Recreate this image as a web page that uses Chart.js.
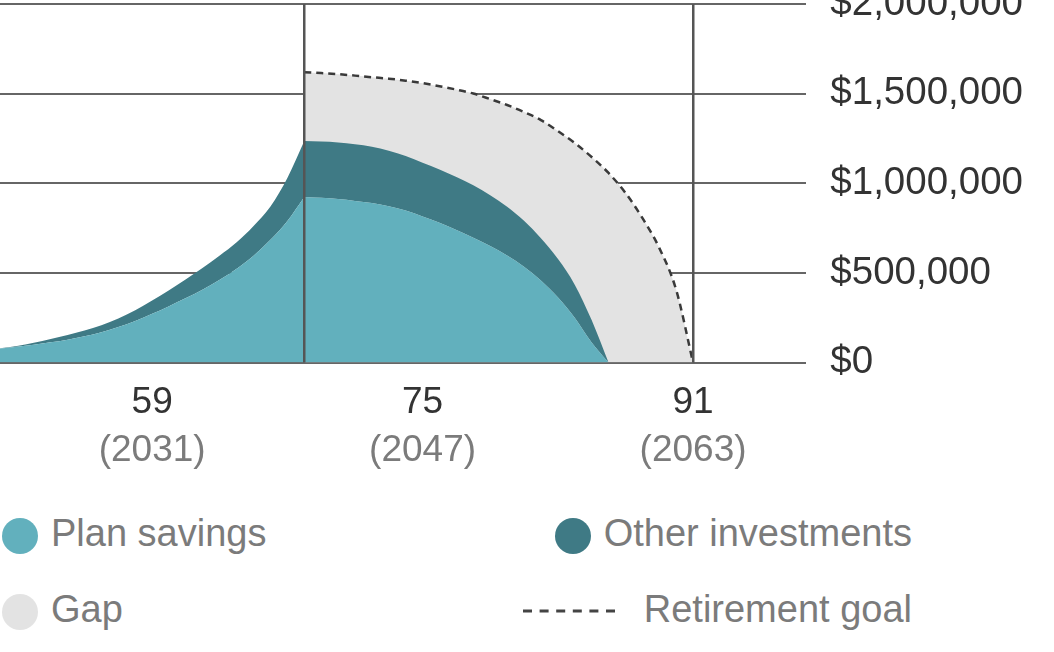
<!DOCTYPE html>
<html>
<head>
<meta charset="utf-8">
<title>Retirement projection</title>
<script src="https://cdn.jsdelivr.net/npm/chart.js@4.4.1/dist/chart.umd.min.js"></script>
<style>
  html, body { margin: 0; padding: 0; background: #fff; }
  #wrap { position: relative; width: 1054px; height: 652px; overflow: hidden; font-family: "Liberation Sans", Arial, sans-serif; }
  #chartBox { position: absolute; left: 0; top: -43px; width: 1054px; height: 526px; }
  #legend { position: absolute; left: 2px; top: 511px; width: 910px; display: grid; grid-template-columns: 1fr 1fr; row-gap: 32px; }
  .item { display: flex; align-items: center; height: 44px; line-height: 44px; font-size: 38px; color: #7b7b7b; white-space: nowrap; }
  .item:nth-child(even) { justify-self: end; }
  .dot { width: 36px; height: 36px; border-radius: 50%; margin-right: 13px; position: relative; top: 3px; }
  .dash { margin-right: 23px; position: relative; top: 2px; }
</style>
</head>
<body>
<div id="wrap">
  <div id="chartBox"><canvas id="projectionChart"></canvas></div>
  <div id="legend"></div>
</div>
<script>
// age on the x axis, one point per year
const ages = [50, 51, 52, 53, 54, 55, 56, 57, 58, 59, 60, 61, 62, 63, 64, 65, 66, 67, 68,
  69, 70, 71, 72, 73, 74, 75, 76, 77, 78, 79, 80, 81, 82, 83, 84, 85, 86, 87, 88, 89, 90, 91];

const planSavings = [78000, 88000, 100000, 113000, 128000, 147000, 170000, 198000, 232000, 272000,
  315000, 360000, 408000, 462000, 523000, 596000, 685000, 790000, 924000,
  919000, 912000, 902000, 890000, 872000, 848000, 815000, 780000, 740000, 697000, 650000,
  598000, 535000, 458000, 365000, 250000, 112000, 0, null, null, null, null, null];

const otherInvestments = [2000, 5000, 11000, 19000, 26000, 32000, 38000, 48000, 60000, 74000,
  89000, 105000, 121000, 135000, 148000, 166000, 186000, 240000, 312000,
  314000, 316000, 316000, 314000, 310000, 305000, 300000, 297000, 295000, 292000, 284000,
  272000, 256000, 236000, 214000, 185000, 125000, 0, null, null, null, null, null];

const retirementGoal = [null, null, null, null, null, null, null, null, null, null,
  null, null, null, null, null, null, null, null, 1620000,
  1615000, 1609000, 1601000, 1592000, 1584000, 1573000, 1559000, 1542000, 1523000, 1501000, 1470000,
  1437000, 1398000, 1353000, 1292000, 1225000, 1147000, 1058000, 947000, 807000, 640000, 406000, 0];

const retirementAge = 68;
const ageTicks = [59, 75, 91];
const yearTicks = ['(2031)', '(2047)', '(2063)'];
const markerAges = [68, 91]; // retirement and end of plan

const fontFamily = '"Liberation Sans", Arial, sans-serif';

// points up to / from retirement, so the curves keep their corner at retirement
const pts = (arr, keep) => ages
    .map((a, i) => ({ x: a, y: arr[i] }))
    .filter(p => p.y !== null && keep(p.x));
const before = a => a <= retirementAge;
const after = a => a >= retirementAge;
const areaStyle = { borderWidth: 0, cubicInterpolationMode: 'monotone' };

const ctx = document.getElementById('projectionChart').getContext('2d');
const chart = new Chart(ctx, {
    type: 'line',
    data: {
        datasets: [
            { ...areaStyle, label: 'Plan savings', data: pts(planSavings, before), stack: 'pre', fill: 'origin', backgroundColor: '#62b0bd' },
            { ...areaStyle, label: 'Other investments', data: pts(otherInvestments, before), stack: 'pre', fill: '-1', backgroundColor: '#3f7a85' },
            { ...areaStyle, label: 'Plan savings', data: pts(planSavings, after), stack: 'post', fill: 'origin', backgroundColor: '#62b0bd' },
            { ...areaStyle, label: 'Other investments', data: pts(otherInvestments, after), stack: 'post', fill: '-1', backgroundColor: '#3f7a85' },
            // gap is painted from the goal down to zero, under the savings areas
            { ...areaStyle, label: 'Gap', data: pts(retirementGoal, after), stack: 'gap', fill: 'origin', backgroundColor: '#e3e3e3', order: 1 },
            {
                label: 'Retirement goal',
                data: pts(retirementGoal, after),
                stack: 'goal',
                fill: false,
                borderColor: '#3a3a3a',
                borderWidth: 2.5,
                borderDash: [7, 5],
                cubicInterpolationMode: 'monotone',
                order: -1
            }
        ]
    },
    options: {
        responsive: true,
        maintainAspectRatio: false,
        animation: false,
        elements: { point: { radius: 0 } },
        layout: { padding: { left: 0, right: 7, top: 0, bottom: 40 } },
        plugins: {
            legend: { display: false },
            tooltip: { enabled: false }
        },
        scales: {
            x: {
                type: 'linear',
                min: 50,
                max: 97.7,
                grid: { display: false, drawTicks: false },
                border: { display: false },
                afterBuildTicks: s => { s.ticks = ageTicks.map(v => ({ value: v })); },
                ticks: {
                    color: '#333', padding: 18, maxRotation: 0, autoSkip: false,
                    font: { family: fontFamily, size: 37, lineHeight: 1.2 }
                }
            },
            // year row hangs from the $0 line, below the ages
            x2: {
                type: 'linear',
                position: { y: 0 },
                min: 50,
                max: 97.7,
                grid: { display: false, drawTicks: false },
                border: { display: false },
                afterBuildTicks: s => { s.ticks = ageTicks.map(v => ({ value: v })); },
                ticks: {
                    color: '#7b7b7b', padding: 66, maxRotation: 0, autoSkip: false,
                    font: { family: fontFamily, size: 37, lineHeight: 1.2 },
                    callback: (v, i) => yearTicks[i]
                }
            },
            xLines: {
                type: 'linear',
                position: 'top',
                min: 50,
                max: 97.7,
                grid: { color: '#555', lineWidth: 2.5, drawTicks: false, z: 1 },
                border: { display: false },
                ticks: { display: false },
                afterBuildTicks: s => { s.ticks = markerAges.map(v => ({ value: v })); }
            },
            y: {
                position: 'right',
                stacked: true,
                min: 0,
                max: 2000000,
                grid: { color: '#666', lineWidth: 2, drawTicks: false },
                border: { display: false },
                ticks: {
                    stepSize: 500000,
                    padding: 24,
                    color: '#333',
                    font: { family: fontFamily, size: 38.5, lineHeight: 1.2 },
                    callback: v => '$' + v.toLocaleString('en-US')
                }
            }
        }
    }
});

// legend in two columns, second column right aligned; one entry per label
const legendEl = document.getElementById('legend');
const seen = new Set();
chart.data.datasets.forEach(ds => {
    if (seen.has(ds.label)) return;
    seen.add(ds.label);
    const item = document.createElement('div');
    item.className = 'item';
    if (ds.fill === false) {
        item.innerHTML = '<svg class="dash" width="98" height="4"><line x1="0" y1="2" x2="98" y2="2" stroke="#444" stroke-width="3" stroke-dasharray="9 7.6"/></svg>';
    } else {
        item.innerHTML = '<span class="dot" style="background:' + ds.backgroundColor + '"></span>';
    }
    const txt = document.createElement('span');
    txt.textContent = ds.label;
    item.appendChild(txt);
    legendEl.appendChild(item);
});
</script>
</body>
</html>
